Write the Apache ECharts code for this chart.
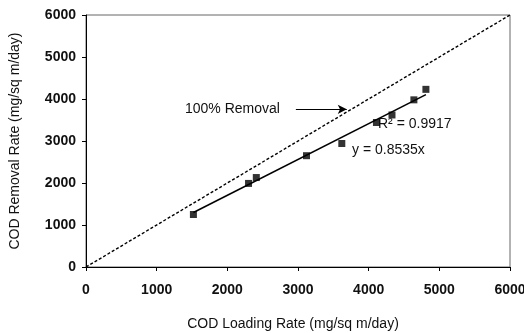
<!DOCTYPE html>
<html><head><meta charset="utf-8">
<script src="https://cdn.jsdelivr.net/npm/echarts@6/dist/echarts.min.js"></script>
<style>html,body{margin:0;padding:0;background:#fff}#c{width:524px;height:333px}</style>
</head><body><div id="c"></div>
<script>
const loading = [1520, 2300, 2410, 3120, 3620, 4110, 4330, 4640, 4810];
const removal = [1250, 1990, 2130, 2650, 2940, 3440, 3620, 3980, 4230];
const trendLine = [[1520, 1297], [4810, 4105]];
const fullRemoval = [[0, 0], [6000, 6000]];
const axisTicks = [0, 1000, 2000, 3000, 4000, 5000, 6000];
const arrowFrom = [2970, 3753];
const arrowTo = [3690, 3753];

const font = 'Liberation Sans, Arial, sans-serif';
const chart = echarts.init(document.getElementById('c'), null, {renderer: 'canvas'});
chart.setOption({
  animation: false,
  backgroundColor: '#fff',
  grid: {left: 86, right: 14, top: 15, bottom: 66, show: true, borderColor: '#666', borderWidth: 1,
    containLabel: false, outerBoundsMode: 'none'},
  xAxis: {
    type: 'value', min: axisTicks[0], max: axisTicks[axisTicks.length - 1], interval: 1000,
    name: 'COD Loading Rate (mg/sq m/day)', nameLocation: 'middle', nameGap: 50,
    nameTextStyle: {fontFamily: font, fontSize: 14, color: '#111', padding: [0, 10, 0, 0]},
    axisLine: {show: true, lineStyle: {color: '#000', width: 1}},
    axisTick: {show: true, inside: false, length: 4, lineStyle: {color: '#000'}},
    axisLabel: {fontFamily: font, fontSize: 14, fontWeight: 'bold', color: '#111', margin: 16,
      formatter: v => String(v)},
    splitLine: {show: false}
  },
  yAxis: {
    type: 'value', min: axisTicks[0], max: axisTicks[axisTicks.length - 1], interval: 1000,
    name: 'COD Removal Rate (mg/sq m/day)', nameLocation: 'middle', nameGap: 64,
    nameTextStyle: {fontFamily: font, fontSize: 14, color: '#111'},
    axisLine: {show: true, lineStyle: {color: '#000', width: 1}},
    axisTick: {show: true, inside: false, length: 4, lineStyle: {color: '#000'}},
    axisLabel: {fontFamily: font, fontSize: 14, fontWeight: 'bold', color: '#111', margin: 10,
      formatter: v => String(v)},
    splitLine: {show: false}
  },
  series: [
    {
      type: 'line', data: fullRemoval, symbol: 'none',
      lineStyle: {color: '#000', width: 1.4, type: [3, 2]}, z: 2,
      markLine: {
        silent: true, symbol: ['none', 'arrow'], symbolSize: [7, 9],
        lineStyle: {color: '#000', width: 1, type: 'solid'},
        label: {show: false},
        data: [[{coord: arrowFrom}, {coord: arrowTo}]]
      }
    },
    {
      type: 'line', data: trendLine, symbol: 'none',
      lineStyle: {color: '#000', width: 1.6}, z: 3
    },
    {
      type: 'scatter', data: loading.map((x, i) => [x, removal[i]]),
      symbol: 'rect', symbolSize: 7, itemStyle: {color: '#000'}, z: 4
    }
  ],
  graphic: [
    {type: 'text', left: 185, top: 102, style: {text: '100% Removal', font: '14px ' + font, fill: '#111'}},
    {type: 'text', left: 378, top: 117, style: {text: 'R² = 0.9917', font: '14px ' + font, fill: '#111'}},
    {type: 'text', left: 352, top: 143, style: {text: 'y = 0.8535x', font: '14px ' + font, fill: '#111'}}
  ]
});
</script></body></html>
